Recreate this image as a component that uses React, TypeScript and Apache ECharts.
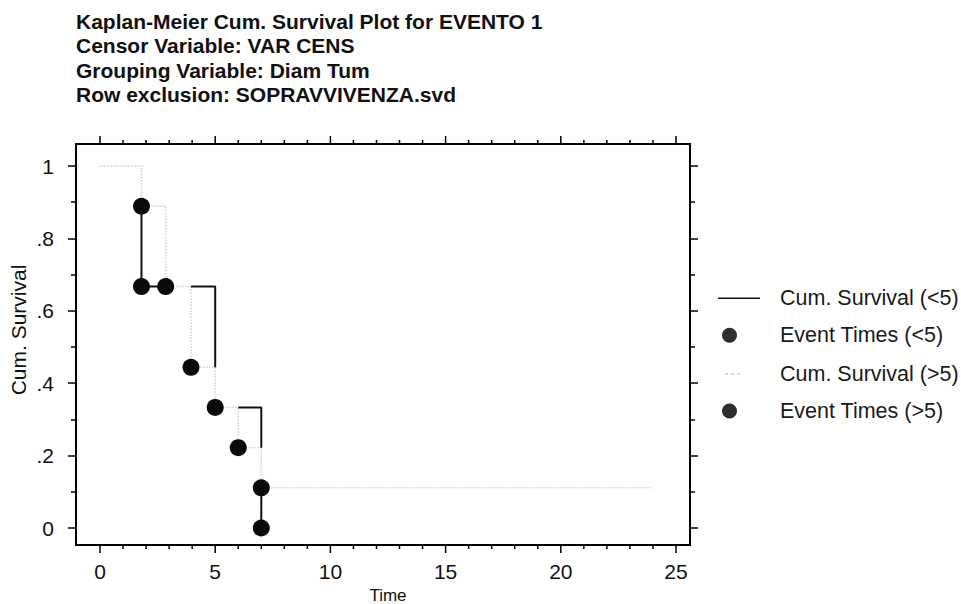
import { useEffect, useRef } from 'react';
import * as echarts from 'echarts';

const TITLE_LINES = [
  'Kaplan-Meier Cum. Survival Plot for EVENTO 1',
  'Censor Variable: VAR CENS',
  'Grouping Variable: Diam Tum',
  'Row exclusion: SOPRAVVIVENZA.svd',
];
const X_NAME = 'Time';
const Y_NAME = 'Cum. Survival';
const SERIES_NAMES = ['Cum. Survival (<5)', 'Event Times (<5)', 'Cum. Survival (>5)', 'Event Times (>5)'];

// axis ranges / ticks
const X_MIN = 0;
const X_MAX = 25;
const X_STEP = 5;
const X_MAJOR_TICKS = [0, 5, 10, 15, 20, 25];
const X_MINOR_TICKS = [1, 2, 3, 4, 6, 7, 8, 9, 11, 12, 13, 14, 16, 17, 18, 19, 21, 22, 23, 24];
const Y_MIN = 0;
const Y_MAX = 1;
const Y_STEP = 0.2;
// plotting range of the frame (y), frame is a bit larger than 0..1
const Y_FRAME_MIN = -0.047;
const Y_FRAME_MAX = 1.061;

// Cum. Survival (>5): step-curve vertices
const SURV_GT5_T = [-0.2, 1.8, 1.8, 2.85, 2.85, 3.95, 3.95, 5, 5, 6, 6, 7, 7, 24];
const SURV_GT5_S = [1, 1, 0.889, 0.889, 0.667, 0.667, 0.444, 0.444, 0.333, 0.333, 0.222, 0.222, 0.111, 0.111];

// Cum. Survival (<5): visible pieces
const SURV_LT5_T = [[1.8, 1.8, 2.85], [3.95, 5, 5], [6, 7, 7], [7, 7]];
const SURV_LT5_S = [[0.889, 0.667, 0.667], [0.667, 0.667, 0.444], [0.333, 0.333, 0.222], [0.111, 0]];

// Event times
const EVENT_LT5_T = [1.8, 1.8, 7, 7];
const EVENT_LT5_S = [0.889, 0.667, 0.111, 0];
const EVENT_GT5_T = [2.85, 3.95, 5, 6];
const EVENT_GT5_S = [0.667, 0.444, 0.333, 0.222];

const FONT = '"Liberation Sans", Arial, Helvetica, sans-serif';

// legend icons (degenerate corner specks fix the icon box to 42x15)
const ICON_BOX = 'M0,0 L0.01,0 L0,0.01 Z M41.99,15 L42,15 L42,14.99 Z ';
const ICON_SOLID = 'path://' + ICON_BOX + 'M0,7 L42,7 L42,8.6 L0,8.6 Z';
const ICON_DOTTED =
  'path://' + ICON_BOX + 'M7,7.2 L10,7.2 L10,8.4 L7,8.4 Z M13,7.2 L16,7.2 L16,8.4 L13,8.4 Z M19,7.2 L22,7.2 L22,8.4 L19,8.4 Z';

function zip(t: number[], s: number[]) {
  return t.map((v, i) => [v, s[i]]);
}

function yFmt(v: number) {
  if (v === 0) return '0';
  if (v === 1) return '1';
  return String(+v.toFixed(1)).replace(/^0/, '');
}

export default function App() {
  const ref = useRef<HTMLDivElement>(null);

  useEffect(() => {
    if (!ref.current) return;
    const chart = echarts.init(ref.current, undefined, { renderer: 'svg' });

    const ltData: any[] = [];
    SURV_LT5_T.forEach((piece, i) => {
      if (i > 0) ltData.push('-');
      piece.forEach((t, j) => ltData.push([t, SURV_LT5_S[i][j]]));
    });

    const tickStyle = { color: '#000', width: 1.5 };
    const gridBase = { outerBoundsMode: 'none', containLabel: false };
    const tickY = {
      gridIndex: 2,
      type: 'value',
      min: Y_MIN,
      max: Y_MAX,
      interval: Y_STEP,
      axisLine: { show: false, onZero: false },
      axisTick: { show: true, length: 8, lineStyle: tickStyle },
      minorTick: { show: true, splitNumber: 2, length: 5, lineStyle: tickStyle },
      splitLine: { show: false },
      minorSplitLine: { show: false },
    };

    // x tick marks drawn as thin rect symbols on the frame's bottom/top edges
    const tickSeries = (ticks: number[], edge: number, len: number, dir: number) => ({
      type: 'scatter',
      xAxisIndex: 1,
      yAxisIndex: 1,
      data: ticks.map((t) => [t, edge]),
      symbol: 'rect',
      symbolSize: [1.5, len],
      symbolOffset: [0, (dir * len) / 2],
      clip: false,
      silent: true,
      itemStyle: { color: '#000', opacity: 1 },
      z: 10,
    });

    const legendText = { fontSize: 21.5, color: '#1a1a1a', fontFamily: FONT, lineHeight: 21 };

    chart.setOption({
      animation: false,
      backgroundColor: '#fff',
      textStyle: { fontFamily: FONT },
      title: {
        text: TITLE_LINES.join('\n'),
        left: 71,
        top: 4,
        textStyle: { fontSize: 21, fontWeight: 'bold', lineHeight: 24.4, fontFamily: FONT, color: '#111' },
      },
      legend: [
        {
          orient: 'vertical',
          left: 718,
          top: 287,
          padding: 0,
          itemWidth: 42,
          itemHeight: 15,
          itemGap: 53.6,
          textStyle: { ...legendText, padding: [0, 0, 0, 15] },
          data: [
            { name: SERIES_NAMES[0], icon: ICON_SOLID, itemStyle: { color: '#111' } },
            { name: SERIES_NAMES[2], icon: ICON_DOTTED, itemStyle: { color: '#bdbdbd' } },
          ],
        },
        {
          orient: 'vertical',
          left: 722,
          top: 324.3,
          padding: 0,
          itemWidth: 15,
          itemHeight: 15,
          itemGap: 53.6,
          textStyle: { ...legendText, padding: [0, 0, 0, 38] },
          data: [
            { name: SERIES_NAMES[1], icon: 'circle', itemStyle: { color: '#2e2e2e' } },
            { name: SERIES_NAMES[3], icon: 'circle', itemStyle: { color: '#2e2e2e' } },
          ],
        },
      ],
      grid: [
        // 0: frame
        { ...gridBase, left: 76, top: 144, width: 614, height: 401, show: true, borderColor: '#000', borderWidth: 2, backgroundColor: 'transparent' },
        // 1: data
        { ...gridBase, left: 100, top: 144, width: 576, height: 401 },
        // 2: y ticks on the frame's left/right edges
        { ...gridBase, left: 76, top: 166, width: 614, height: 362 },
      ],
      xAxis: [
        { gridIndex: 0, type: 'value', show: false, min: 0, max: 1 },
        {
          gridIndex: 1,
          type: 'value',
          min: X_MIN,
          max: X_MAX,
          interval: X_STEP,
          position: 'bottom',
          axisLine: { show: false, onZero: false },
          axisTick: { show: false },
          splitLine: { show: false },
          axisLabel: { show: true, fontSize: 21, color: '#111', margin: 16, fontFamily: FONT },
          name: X_NAME,
          nameLocation: 'middle',
          nameGap: 36,
          nameTextStyle: { fontSize: 17, color: '#111', fontFamily: FONT },
        },
        { gridIndex: 2, type: 'value', show: false, min: 0, max: 1 },
      ],
      yAxis: [
        { gridIndex: 0, type: 'value', show: false, min: 0, max: 1 },
        { gridIndex: 1, type: 'value', show: false, min: Y_FRAME_MIN, max: Y_FRAME_MAX },
        {
          ...tickY,
          position: 'left',
          axisLabel: { show: true, fontSize: 21, color: '#111', margin: 22, fontFamily: FONT, formatter: yFmt },
        },
        { ...tickY, position: 'right', axisLabel: { show: false } },
      ],
      graphic: [
        {
          type: 'text',
          x: 18,
          y: 330,
          rotation: Math.PI / 2,
          style: {
            text: Y_NAME,
            fontSize: 21,
            fontFamily: FONT,
            fill: '#111',
            align: 'center',
            verticalAlign: 'middle',
          },
        },
      ],
      series: [
        {
          name: SERIES_NAMES[2],
          type: 'line',
          xAxisIndex: 1,
          yAxisIndex: 1,
          data: zip(SURV_GT5_T, SURV_GT5_S),
          symbol: 'none',
          clip: false,
          lineStyle: { color: '#cfcfcf', width: 1.5, type: 'dotted' },
          itemStyle: { color: '#cfcfcf' },
          z: 2,
        },
        {
          name: SERIES_NAMES[0],
          type: 'line',
          xAxisIndex: 1,
          yAxisIndex: 1,
          data: ltData,
          connectNulls: false,
          symbol: 'none',
          clip: false,
          lineStyle: { color: '#111', width: 2 },
          itemStyle: { color: '#111' },
          z: 3,
        },
        {
          name: SERIES_NAMES[1],
          type: 'scatter',
          xAxisIndex: 1,
          yAxisIndex: 1,
          data: zip(EVENT_LT5_T, EVENT_LT5_S),
          symbol: 'circle',
          symbolSize: 17,
          clip: false,
          itemStyle: { color: '#0a0a0a', opacity: 1 },
          z: 4,
        },
        {
          name: SERIES_NAMES[3],
          type: 'scatter',
          xAxisIndex: 1,
          yAxisIndex: 1,
          data: zip(EVENT_GT5_T, EVENT_GT5_S),
          symbol: 'circle',
          symbolSize: 17,
          clip: false,
          itemStyle: { color: '#0a0a0a', opacity: 1 },
          z: 4,
        },
        tickSeries(X_MAJOR_TICKS, Y_FRAME_MIN, 8, 1),
        tickSeries(X_MINOR_TICKS, Y_FRAME_MIN, 4, 1),
        tickSeries(X_MAJOR_TICKS, Y_FRAME_MAX, 8, -1),
        tickSeries(X_MINOR_TICKS, Y_FRAME_MAX, 4, -1),
      ],
    });

    return () => chart.dispose();
  }, []);

  return <div ref={ref} style={{ position: 'fixed', left: 0, top: 0, width: 961, height: 604 }} />;
}
